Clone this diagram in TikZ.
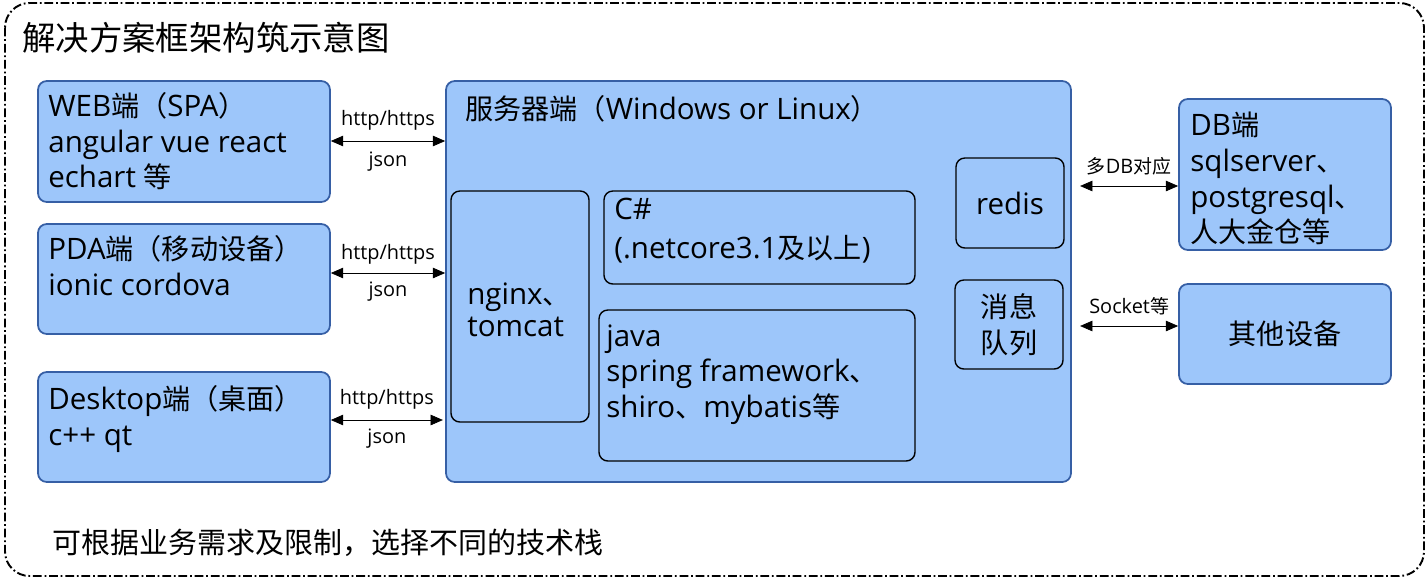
\documentclass[tikz,border=0pt]{standalone}
\usepackage{fontspec}
\setmainfont{Open Sans}[Scale=1.05]
\newfontfamily\cjkfont{Noto Sans CJK SC}
\usetikzlibrary{arrows.meta,fit}
\definecolor{boxfill}{RGB}{157,198,250}
\definecolor{boxline}{RGB}{54,95,165}
% CJK characters switch to the CJK font by themselves
\XeTeXinterchartokenstate=1
\newXeTeXintercharclass\cjkclass
\newcount\cjkc
\def\setcjkrange#1#2{\cjkc=#1 \loop\XeTeXcharclass\cjkc=\cjkclass \ifnum\cjkc<#2 \advance\cjkc by 1 \repeat}
\setcjkrange{"3000}{"303F}
\setcjkrange{"4E00}{"9FFF}
\setcjkrange{"FF00}{"FFEF}
\XeTeXinterchartoks 0 \cjkclass={\cjkfont}
\XeTeXinterchartoks 4095 \cjkclass={\cjkfont}
\XeTeXinterchartoks \cjkclass 0={\rmfamily}
\XeTeXinterchartoks \cjkclass 4095={\rmfamily}

\begin{document}
\begin{tikzpicture}[x=0.02cm, y=-0.02cm,
    endbox/.style={draw=boxline, fill=boxfill, line width=1pt, rounded corners=5pt, inner sep=0pt},
    inbox/.style={draw=black, fill=boxfill, line width=0.8pt, rounded corners=5pt, inner sep=0pt},
    body/.style={inner sep=0pt, align=left, font=\fontsize{16}{20.3}\selectfont},
    tag/.style={inner sep=0pt, font=\fontsize{10.8}{12}\selectfont},
    link/.style={{Triangle[length=7pt,width=6pt]}-{Triangle[length=7pt,width=6pt]}, thin}]
    \useasboundingbox (0,0) rectangle (1427,579);
    \draw[dash pattern=on 5pt off 1.6pt on 1pt off 1.6pt, line width=1.1pt, rounded corners=14pt] (5,3) rectangle (1424,576);
    \node[anchor=west, inner sep=0pt, font=\fontsize{19}{22}\selectfont] (title) at (22,38) {解决方案框架构筑示意图};

    % clients
    \node[endbox, fit={(38,81) (330,202)}] (web) {};
    \node[endbox, fit={(38,224) (330,334)}] (pda) {};
    \node[endbox, fit={(38,372) (330,482)}] (dsk) {};
    \node[body, anchor=north west] (webtxt) at (48,92) {WEB端（SPA）\\angular vue react\\echart 等};
    \node[body, anchor=north west] (pdatxt) at (48,235) {PDA端（移动设备）\\ionic cordova};
    \node[body, anchor=north west] (dsktxt) at (48,385) {Desktop端（桌面）\\c++ qt};

    % server
    \node[endbox, fit={(446,81) (1071,482)}] (srv) {};
    \node[body, anchor=north west] (srvtxt) at (465,95) {服务器端（Windows or Linux）};
    \node[inbox, fit={(451,191) (589,422)}] (ngx) {};
    \node[body, anchor=north west] (ngxtxt) at (467,282) {nginx、\\[-2pt]tomcat};
    \node[inbox, fit={(604,191) (915,284)}] (cs) {};
    \node[body, anchor=north west] (cstxt) at (614,198) {C\#\\[2pt](.netcore3.1及以上)};
    \node[inbox, fit={(599,310) (915,461)}] (java) {};
    \node[body, anchor=north west] (javatxt) at (606,324) {java\\spring framework、\\shiro、mybatis等};
    \node[inbox, fit={(956,158) (1064,248)}] (redis) {};
    \node[body] at (redis) {redis};
    \node[inbox, fit={(955,280) (1063,369)}] (mq) {};
    \node[body, align=center] at (mq) {消息\\队列};

    % right side
    \node[endbox, fit={(1179,99) (1391,250)}] (db) {};
    \node[body, anchor=north west] (dbtxt) at (1190,112) {DB端\\sqlserver、\\postgresql、\\人大金仓等};
    \node[endbox, fit={(1179,284) (1391,384)}] (dev) {};
    \node[body] at (dev) {其他设备};

    % links
    \draw[link] (web.east |- 0,141) -- (srv.west |- 0,141)
        node[tag, midway, above=6pt] {http/https} node[tag, midway, below=6pt] {json};
    \draw[link] (pda.east |- 0,273) -- (srv.west |- 0,273)
        node[tag, midway, above=5pt] {http/https} node[tag, midway, below=5pt] {json};
    \draw[link] (dsk.east |- 0,420) -- ++(112,0)
        node[tag, midway, above=6pt] {http/https} node[tag, midway, below=5pt] {json};
    \draw[link] (db.west |- 0,186) -- ++(-98,0) node[tag, midway, above=6pt] {多DB对应};
    \draw[link] (dev.west |- 0,326) -- ++(-98,0) node[tag, midway, above=6pt] {Socket等};

    \node[anchor=west, inner sep=0pt, font=\fontsize{16.5}{20}\selectfont] (note) at (52,543) {可根据业务需求及限制，选择不同的技术栈};
\end{tikzpicture}
\end{document}
